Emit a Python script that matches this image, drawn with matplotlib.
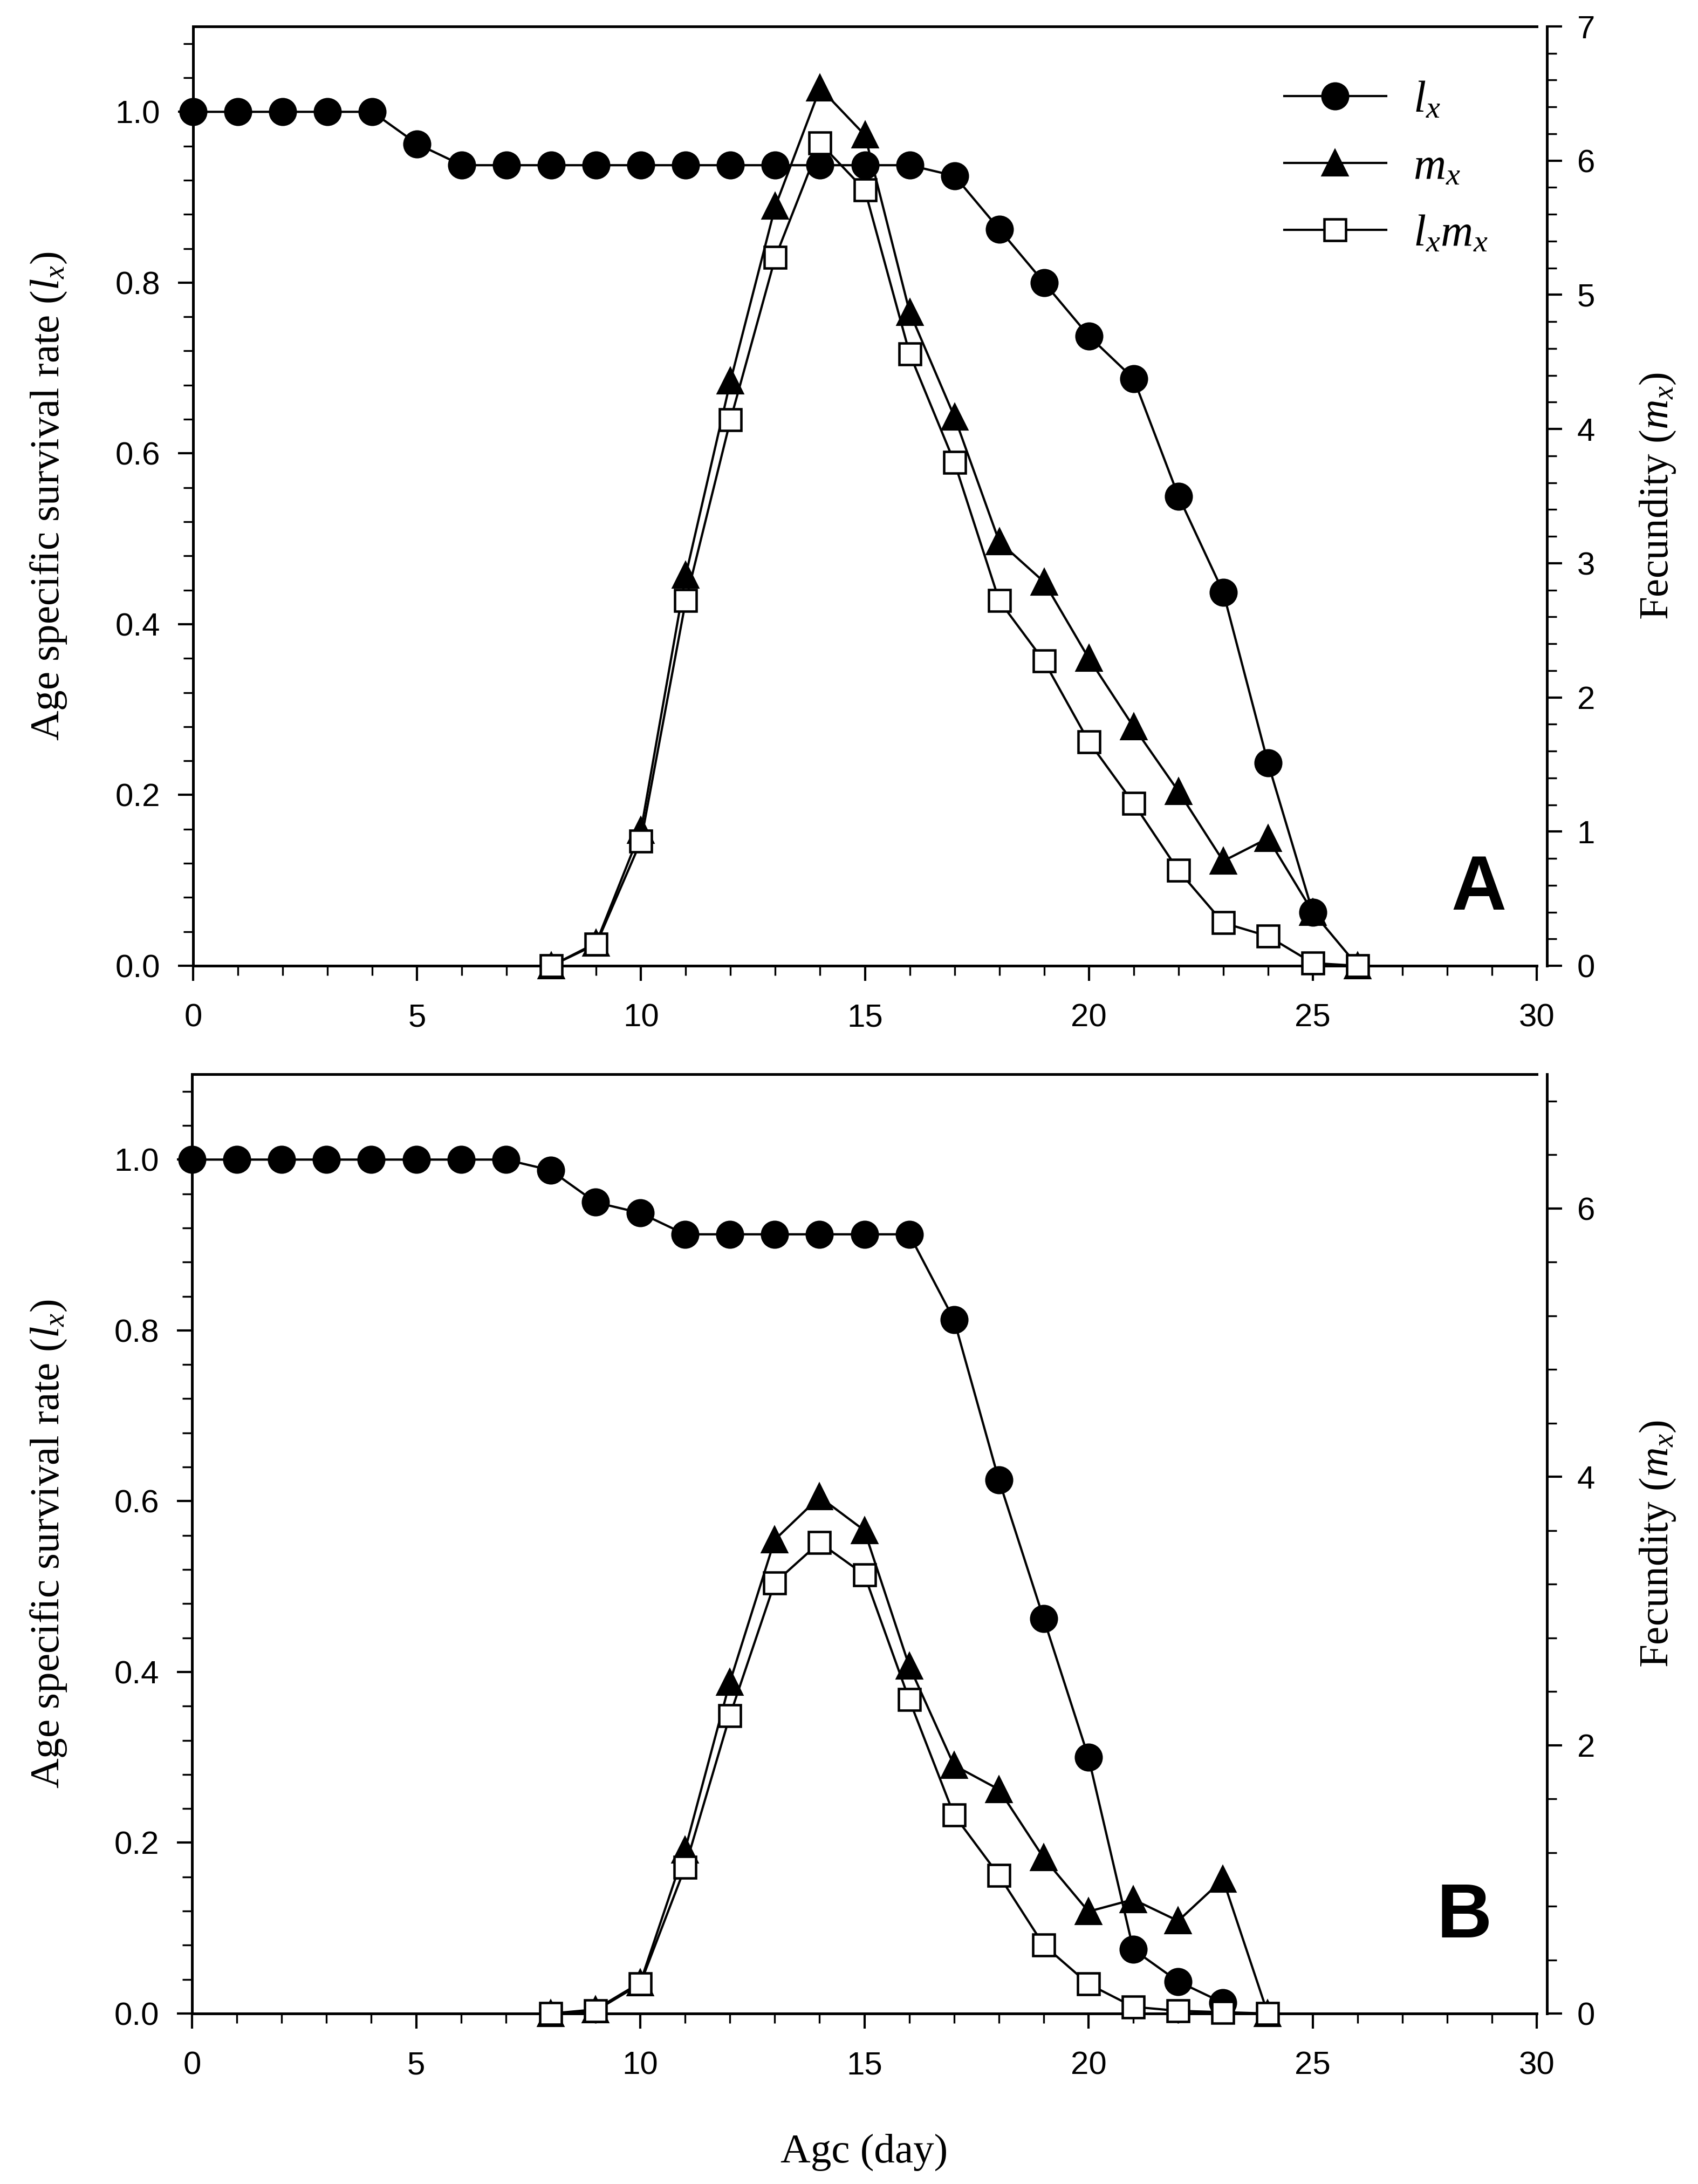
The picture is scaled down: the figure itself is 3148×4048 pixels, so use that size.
import numpy as np
import matplotlib
matplotlib.use('Agg')
from matplotlib import pyplot as plt
from matplotlib.ticker import MultipleLocator, FormatStrFormatter

plt.rcParams['font.family'] = ['Liberation Sans', 'DejaVu Sans']
plt.rcParams['mathtext.fontset'] = 'custom'
plt.rcParams['mathtext.rm'] = 'Liberation Serif'
plt.rcParams['mathtext.it'] = 'Liberation Serif:italic'

# panel A data
age_a = np.arange(0, 26)
lx_a = [1.0, 1.0, 1.0, 1.0, 1.0, 0.9625, 0.9375, 0.9375, 0.9375, 0.9375,
        0.9375, 0.9375, 0.9375, 0.9375, 0.9375, 0.9375, 0.9375, 0.925, 0.8625,
        0.8, 0.7375, 0.6875, 0.55, 0.4375, 0.2375, 0.0625]
age_a_m = np.arange(8, 27)
mx_a = [0.0, 0.17, 1.01, 2.91, 4.36, 5.66, 6.54, 6.19, 4.87, 4.09, 3.16,
        2.86, 2.29, 1.78, 1.30, 0.78, 0.95, 0.40, 0.0]
lxmx_a = [0.0, 0.16, 0.93, 2.72, 4.07, 5.28, 6.13, 5.78, 4.56, 3.75, 2.72,
          2.27, 1.67, 1.21, 0.71, 0.32, 0.22, 0.02, 0.0]

# panel B data
age_b = np.arange(0, 24)
lx_b = [1.0, 1.0, 1.0, 1.0, 1.0, 1.0, 1.0, 1.0, 0.9875, 0.95, 0.9375,
        0.9125, 0.9125, 0.9125, 0.9125, 0.9125, 0.9125, 0.8125, 0.625,
        0.4625, 0.30, 0.075, 0.0375, 0.0125]
age_b_m = np.arange(8, 25)
mx_b = [0.0, 0.03, 0.23, 1.22, 2.47, 3.53, 3.85, 3.60, 2.59, 1.85, 1.67,
        1.16, 0.76, 0.85, 0.69, 1.0, 0.0]
lxmx_b = [0.0, 0.02, 0.22, 1.09, 2.22, 3.21, 3.51, 3.27, 2.34, 1.48, 1.03,
          0.51, 0.22, 0.05, 0.02, 0.01, 0.0]

W, H = 3148, 4048
fig = plt.figure(figsize=(W / 300, H / 300), dpi=300)

ax_a = fig.add_axes([358 / W, 1 - 1790 / H, (2849 - 358) / W, (1790 - 49) / H])
ax_b = fig.add_axes([356 / W, 1 - 3732 / H, (2849 - 356) / W, (3732 - 1991) / H])


def draw_panel(ax, age, lx, age_m, mx, lxmx, m_minor, m_ticks, label, lpos, legend=False):
    ax.set_xlim(0, 30)
    ax.set_ylim(0, 1.1)
    ax2 = ax.twinx()
    ax2.set_ylim(0, 7)

    line_kw = dict(color='k', lw=1.0, clip_on=False)
    h2, = ax2.plot(age_m, mx, marker='^', ms=11, mfc='k', mec='k', zorder=3, **line_kw)
    # lx lives on the left scale but is drawn in the top axes so circles sit over triangles
    h1, = ax2.plot(age, lx, marker='o', ms=11.5, mfc='k', mec='k', zorder=3.5,
                   transform=ax.transData, **line_kw)
    h3, = ax2.plot(age_m, lxmx, marker='s', ms=9.5, mfc='white', mec='k', mew=1.1,
                   zorder=4, **line_kw)

    ax.xaxis.set_major_locator(MultipleLocator(5))
    ax.xaxis.set_minor_locator(MultipleLocator(1))
    ax.yaxis.set_major_locator(MultipleLocator(0.2))
    ax.yaxis.set_minor_locator(MultipleLocator(0.04))
    ax.yaxis.set_major_formatter(FormatStrFormatter('%.1f'))
    ax2.set_yticks(m_ticks)
    ax2.yaxis.set_minor_locator(MultipleLocator(m_minor))
    ax2.set_ylim(0, 7)

    for s in ['left', 'top', 'bottom']:
        ax.spines[s].set_linewidth(1.2)
    ax.spines['right'].set_visible(False)
    for s in ['left', 'top', 'bottom']:
        ax2.spines[s].set_visible(False)
    ax2.spines['right'].set_linewidth(1.2)
    ax2.spines['right'].set_position(('outward', 4.5))

    ax.tick_params(axis='both', which='major', direction='out', length=6.7, width=1.0,
                   labelsize=14.4, top=False, right=False)
    ax.tick_params(axis='both', which='minor', direction='out', length=4.3, width=0.8,
                   top=False, right=False)
    ax.tick_params(axis='x', which='major', pad=10)
    ax.tick_params(axis='y', which='major', pad=8)
    ax2.tick_params(axis='y', which='major', direction='out', length=6.7, width=1.0,
                    labelsize=14.4, pad=6.7)
    ax2.tick_params(axis='y', which='minor', direction='out', length=4.3, width=0.8)

    ax.text(lpos[0], lpos[1], label, transform=ax.transAxes, fontsize=34,
            fontweight='bold', ha='center', va='center')

    if legend:
        ax2.legend([h1, h2, h3], [r'$l_x$', r'$m_x$', r'$l_xm_x$'],
                   loc='upper left', bbox_to_anchor=(0.812, 0.944), frameon=False,
                   fontsize=20, handlelength=2.27, handletextpad=0.6,
                   labelspacing=0.55, borderpad=0, borderaxespad=0)
    return ax2


draw_panel(ax_a, age_a, lx_a, age_a_m, mx_a, lxmx_a, 0.2, [0, 1, 2, 3, 4, 5, 6, 7],
           'A', (0.957, 0.081), legend=True)
draw_panel(ax_b, age_b, lx_b, age_b_m, mx_b, lxmx_b, 0.4, [0, 2, 4, 6],
           'B', (0.946, 0.102))

ylab_kw = dict(fontsize=18.5, family='Liberation Serif', rotation=90, ha='center', va='center')
for top, bot in [(49, 1790), (1991, 3732)]:
    yc = 1 - (top + bot) / 2 / H
    fig.text(90 / W, yc, r'Age specific survival rate ($l_x$)', **ylab_kw)
    fig.text(3073 / W, yc, r'Fecundity ($m_x$)', **ylab_kw)

fig.text((356 + 2849) / 2 / W, 1 - 3989 / H, 'Agc (day)', fontsize=18.5,
         family='Liberation Serif', ha='center', va='center')

fig.savefig('out.png', dpi=300)
